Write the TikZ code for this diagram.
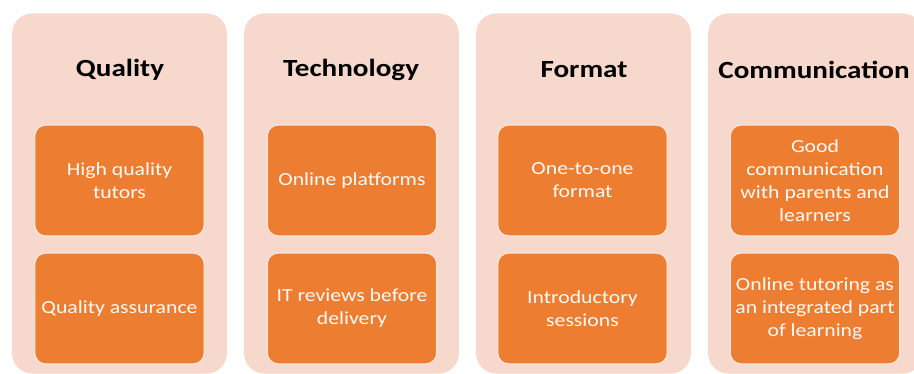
\documentclass[tikz,border=0pt]{standalone}
\usepackage{fontspec}
\setmainfont{Carlito}[FakeStretch=1.18]
\usetikzlibrary{positioning}

\definecolor{panelpink}{RGB}{247,216,205}
\definecolor{itemorange}{RGB}{237,125,49}

\tikzset{
    panel/.style={fill=panelpink, draw=none, rounded corners=15pt,
        minimum width=161pt, minimum height=270pt, inner sep=0pt},
    heading/.style={font=\fontsize{18.5}{21}\selectfont\bfseries, text=black},
    item/.style={fill=itemorange, draw=white!85!itemorange, line width=0.8pt,
        rounded corners=8pt, minimum width=127pt, minimum height=83pt,
        align=center, text=white!96!itemorange, inner sep=2pt,
        font=\fontsize{13.8}{17.3}\selectfont}
}

\begin{document}
\begin{tikzpicture}[x=0.75pt, y=-0.75pt]
    \useasboundingbox (0,0) rectangle (914,374);
    \clip (0,0) rectangle (914,374);

    % Background panels
    \node[panel] (qual)  at (119.5,193.5) {};
    \node[panel] (tech)  at (351.5,193.5) {};
    \node[panel] (form)  at (583.5,193.5) {};
    \node[panel] (comm)  at (815.5,193.5) {};

    % Headings
    \node[heading] (qualhead) at (120,70)   {Quality};
    \node[heading] (techhead) at (351,70)   {Technology};
    \node[heading] (formhead) at (584,70)   {Format};
    \node[heading] (commhead) at (814,70)   {Communication};

    % Quality items
    \node[item] (tutors)  at (119.5,180.5) {High quality\\tutors};
    \node[item] (assure)  at (119.5,308.5) {Quality assurance};

    % Technology items
    \node[item] (online)  at (352,180.5)   {Online platforms};
    \node[item] (review)  at (352,308.5)   {IT reviews before\\delivery};

    % Format items
    \node[item] (onetoone) at (582.5,180.5) {One-to-one\\format};
    \node[item] (intro)    at (582.5,308.5) {Introductory\\sessions};

    % Communication items
    \node[item] (parents)  at (815,180.5)  {Good\\communication\\with parents and\\learners};
    \node[item] (integr)   at (815,308.5)  {Online tutoring as\\an integrated part\\of learning};
\end{tikzpicture}
\end{document}
